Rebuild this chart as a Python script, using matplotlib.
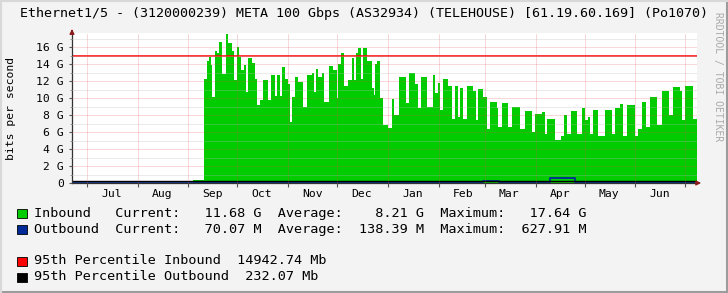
import matplotlib
matplotlib.use('Agg')
import matplotlib.pyplot as plt
import matplotlib.dates as mdates
from matplotlib.patches import Rectangle
from matplotlib.lines import Line2D
import pandas as pd

plt.rcParams['font.family'] = 'DejaVu Sans Mono'
plt.rcParams['lines.scale_dashes'] = False

start = pd.Timestamp('2024-06-22')
span_days = 381.6

# inbound traffic, Gbit/s, step values starting at day offset
in_day = [0, 73.9, 80.6, 82.4, 83.6, 84.9, 85.5, 87.3, 88.5, 89.7,
          91.6, 94.0, 95.2, 97.7, 99.2, 100.7, 102.0, 103.2, 105.0, 106.2,
          107.4, 109.9, 111.7, 112.9, 114.8, 116.6, 119.7, 121.5, 123.9, 125.2,
          127.0, 128.2, 130.0, 131.9, 133.1, 134.3, 136.1, 138.0, 141.0, 143.5,
          146.5, 147.7, 149.0, 150.2, 152.6, 153.8, 156.9, 159.3, 161.8, 162.4,
          164.2, 166.1, 168.5, 170.9, 172.2, 173.4, 174.6, 176.4, 177.7, 180.1,
          183.2, 184.4, 185.0, 186.2, 188.0, 189.9, 192.9, 195.4, 196.6, 199.6,
          203.9, 205.7, 209.4, 211.2, 213.1, 216.7, 220.4, 221.6, 223.4, 224.7,
          226.5, 229.5, 232.0, 233.8, 235.7, 236.9, 238.7, 241.1, 244.8, 246.6,
          247.9, 250.9, 253.4, 255.2, 259.5, 260.1, 262.5, 266.2, 268.6, 273.5,
          276.6, 280.8, 282.7, 286.9, 288.8, 290.0, 294.9, 298.5, 300.4, 302.2,
          304.6, 308.3, 311.4, 313.2, 315.0, 316.2, 318.1, 321.1, 325.4, 329.7,
          331.5, 334.6, 336.4, 338.8, 343.7, 345.5, 348.0, 350.4, 352.9, 357.1,
          360.2, 364.5, 366.9, 371.2, 372.4, 374.2, 379.1, 381.6]
in_gbps = [0.05, 0.35, 12.3, 14.4, 14.9, 13.9, 10.2, 15.6, 15.3, 16.6,
           12.9, 17.64, 16.5, 15.6, 12.1, 16.0, 14.9, 13.3, 13.9, 10.7,
           14.8, 14.2, 12.3, 9.2, 9.8, 12.2, 9.8, 12.7, 10.3, 12.7,
           10.3, 13.7, 12.3, 11.7, 7.2, 10.1, 12.5, 11.9, 9.0, 12.8,
           13.0, 10.7, 13.5, 12.5, 13.0, 9.6, 13.8, 13.3, 10.0, 14.0,
           15.3, 11.5, 12.1, 14.7, 12.1, 15.3, 15.9, 12.3, 15.9, 14.4,
           11.2, 10.4, 14.0, 14.4, 10.0, 6.8, 6.5, 9.9, 8.0, 12.5,
           9.4, 13.0, 11.7, 8.8, 12.5, 9.0, 12.7, 10.6, 11.8, 8.6,
           12.3, 11.5, 7.6, 11.4, 7.8, 11.2, 7.6, 11.4, 10.8, 7.4,
           11.1, 10.1, 6.4, 9.6, 8.8, 6.6, 9.4, 6.6, 9.0, 6.4,
           8.5, 6.0, 8.2, 8.4, 5.8, 7.6, 5.1, 5.5, 8.0, 5.8,
           8.5, 5.8, 8.9, 7.4, 7.8, 5.8, 8.6, 5.6, 8.6, 5.8,
           8.9, 9.3, 5.5, 9.2, 5.5, 6.4, 9.6, 6.6, 10.2, 6.9,
           10.9, 8.0, 11.3, 10.8, 7.4, 11.4, 7.6, 7.6]

out_day = [0, 251, 261, 291.8, 296.9, 302.0, 307.1, 381.6]
out_gbps = [0.12, 0.2, 0.12, 0.6, 0.55, 0.6, 0.12, 0.12]

p95_in = 14.94274
p95_out = 0.23207

title = 'Ethernet1/5 - (3120000239) META 100 Gbps (AS32934) (TELEHOUSE) [61.19.60.169] (Po1070)'
legend_rows = [
    ('#00CC00', 'Inbound   Current:   11.68 G  Average:    8.21 G  Maximum:   17.64 G'),
    ('#002A97', 'Outbound  Current:   70.07 M  Average:  138.39 M  Maximum:  627.91 M'),
    ('#FF0000', '95th Percentile Inbound  14942.74 Mb'),
    ('#000000', '95th Percentile Outbound  232.07 Mb'),
]
legend_y = [213, 229, 261, 277]

W, H = 728, 293
fig = plt.figure(figsize=(W / 100, H / 100), dpi=100, facecolor='#F3F3F3')
ax = fig.add_axes([72 / W, 110 / H, 625 / W, 150 / H])
ax.set_facecolor('white')

in_x = mdates.date2num(start + pd.to_timedelta(in_day, unit='D'))
out_x = mdates.date2num(start + pd.to_timedelta(out_day, unit='D'))

ax.fill_between(in_x, in_gbps, step='post', color='#00CC00', lw=0)
ax.step(out_x, out_gbps, where='post', color='#002A97', lw=1.3)
ax.axhline(p95_in, color='#FF0000', lw=1.1)
ax.axhline(p95_out, color='#000000', lw=1.0)

ax.set_xlim(mdates.date2num(start), mdates.date2num(start + pd.Timedelta(days=span_days)))
ax.set_ylim(0, 17.7)

# grid on top, rrdtool style
ax.set_axisbelow(False)
ax.yaxis.set_major_locator(plt.MultipleLocator(2))
ax.yaxis.set_minor_locator(plt.MultipleLocator(1))
ax.yaxis.set_major_formatter(plt.FuncFormatter(lambda v, p: '0' if v == 0 else '%d G' % v))
ax.xaxis.set_major_locator(mdates.MonthLocator())
ax.xaxis.set_major_formatter(plt.NullFormatter())
ax.xaxis.set_minor_locator(mdates.MonthLocator(bymonthday=16))
ax.xaxis.set_minor_formatter(mdates.DateFormatter('%b'))
ax.grid(which='minor', axis='y', color='#BABABA', alpha=0.6, lw=0.7, ls=(0, (0.72, 0.72)))
ax.grid(which='major', axis='both', color='#E05050', alpha=0.45, lw=0.7, ls=(0, (0.72, 0.72)))

ax.tick_params(axis='y', which='major', length=2.5, pad=3.5, labelsize=8.2, color='#555555')
ax.tick_params(axis='y', which='minor', length=1.5, color='#888888')
ax.tick_params(axis='x', which='major', length=3, color='#555555')
ax.tick_params(axis='x', which='minor', length=0, pad=4.5, labelsize=8.2)

for s in ['top', 'right']:
    ax.spines[s].set_visible(False)
for s in ['left', 'bottom']:
    ax.spines[s].set_color('#333333')
    ax.spines[s].set_linewidth(0.9)

ax.annotate('', xy=(0, 1.045), xytext=(0, 0.99), xycoords='axes fraction',
            arrowprops=dict(arrowstyle='-|>', color='#8B1A1A', lw=0.9, mutation_scale=7),
            annotation_clip=False)
ax.annotate('', xy=(1.011, 0), xytext=(0.995, 0), xycoords='axes fraction',
            arrowprops=dict(arrowstyle='-|>', color='#8B1A1A', lw=0.9, mutation_scale=7),
            annotation_clip=False)

ax.set_ylabel('bits per second', fontsize=8.2)
ax.yaxis.set_label_coords(-(72 - 16) / 625, 0.5)

fig.text(0.5, 1 - 14 / H, title, ha='center', va='center', fontsize=9.6, color='#000000')
fig.text(718 / W, 1 - 77 / H, 'RRDTOOL / TOBI OETIKER', rotation=270, ha='center', va='center',
         fontsize=7, color='#AAAAAA')

for (col, txt), y in zip(legend_rows, legend_y):
    fig.add_artist(Rectangle((17 / W, 1 - (y + 4.5) / H), 10 / W, 9 / H,
                             transform=fig.transFigure, facecolor=col, edgecolor='#000000', lw=0.6))
    fig.text(34 / W, 1 - y / H, txt, ha='left', va='center', fontsize=9.7, color='#000000')

# 3d-ish border
fig.add_artist(Line2D([0, 1], [1 / H, 1 / H], transform=fig.transFigure, color='#9C9C9C', lw=1.5))
fig.add_artist(Line2D([1 - 1 / W, 1 - 1 / W], [0, 1], transform=fig.transFigure, color='#9C9C9C', lw=1.5))
fig.add_artist(Line2D([0, 1], [1 - 1 / H, 1 - 1 / H], transform=fig.transFigure, color='#D8D8D8', lw=1.5))
fig.add_artist(Line2D([1 / W, 1 / W], [0, 1], transform=fig.transFigure, color='#D8D8D8', lw=1.5))

fig.savefig('out.png', dpi=100, facecolor=fig.get_facecolor())
